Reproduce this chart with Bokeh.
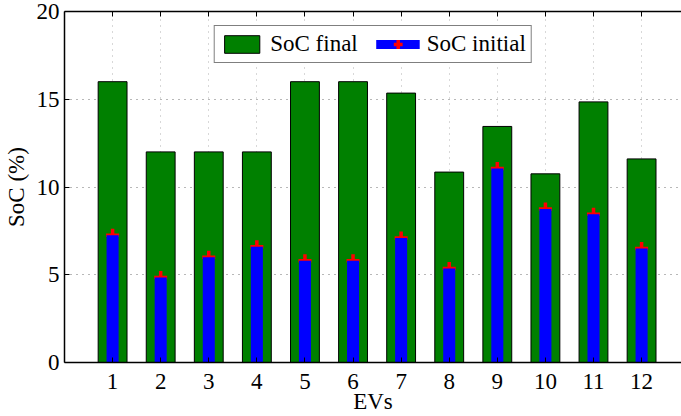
from bokeh.plotting import figure
from bokeh.models import (Range1d, LinearAxis, FixedTicker, Legend, LegendItem,
                          ColumnDataSource)
from bokeh.embed import file_html
from bokeh.resources import INLINE

evs = [1, 2, 3, 4, 5, 6, 7, 8, 9, 10, 11, 12]
soc_final = [16.0, 12.0, 12.0, 12.0, 16.0, 16.0, 15.35, 10.85, 13.45, 10.75, 14.85, 11.6]
soc_initial = [7.25, 4.85, 6.0, 6.6, 5.8, 5.8, 7.1, 5.35, 11.05, 8.75, 8.45, 6.5]
y_ticks = [0, 5, 10, 15, 20]

FONT = "Liberation Serif"
FS = "23px"

p = figure(width=681, height=416, output_backend="svg", toolbar_location=None,
           x_range=Range1d(0, 12.83), y_range=Range1d(0, 20),
           min_border_left=64, min_border_right=0, min_border_top=11, min_border_bottom=52)
p.outline_line_color = None
p.background_fill_color = "white"
p.border_fill_color = "white"

src = ColumnDataSource(dict(ev=evs, final=soc_final, initial=soc_initial))

g = p.vbar(x="ev", top="final", width=0.6, bottom=0, source=src, fill_color="#008000",
           line_color="black", line_width=1)
m = p.scatter(x="ev", y="initial", source=src, marker="cross", size=13,
              line_color="#ff0000", line_width=3.5)
b = p.vbar(x="ev", top="initial", width=0.25, bottom=0, source=src, fill_color="#0000ff",
           line_color=None)

# legend-only proxies: same data on an off-screen range, so only the legend shows them
p.extra_y_ranges = {"legend_only": Range1d(1000, 1001)}
lg_line = p.line(x="ev", y="initial", source=src, y_range_name="legend_only",
                 line_color="#0000ff", line_width=9)
lg_mark = p.scatter(x="ev", y="initial", source=src, y_range_name="legend_only",
                    marker="cross", size=12, line_color="#ff0000", line_width=3.5)

legend = Legend(items=[LegendItem(label="SoC final", renderers=[g]),
                       LegendItem(label="SoC initial", renderers=[lg_line, lg_mark])],
                location="top_center", orientation="horizontal", margin=14,
                padding=5, spacing=18, glyph_width=44, glyph_height=22,
                label_text_font=FONT, label_text_font_size=FS, label_standoff=7,
                label_text_color="black",
                border_line_color="black", border_line_width=1.5,
                background_fill_color="white", background_fill_alpha=1)
p.add_layout(legend, "center")

# axes
for ax in [p.xaxis[0], p.yaxis[0]]:
    ax.axis_line_width = 1.5
    ax.axis_line_color = "black"
    ax.major_tick_in = 5
    ax.major_tick_out = 0
    ax.major_tick_line_color = "black"
    ax.minor_tick_line_color = None
    ax.major_label_text_font = FONT
    ax.major_label_text_font_size = FS
    ax.major_label_text_color = "black"
    ax.axis_label_text_font = FONT
    ax.axis_label_text_font_size = FS
    ax.axis_label_text_font_style = "normal"
    ax.axis_label_text_color = "black"

p.xaxis[0].ticker = FixedTicker(ticks=evs)
p.yaxis[0].ticker = FixedTicker(ticks=y_ticks)
p.xaxis[0].axis_label = "EVs"
p.yaxis[0].axis_label = "SoC (%)"
p.xaxis[0].major_label_standoff = 11
p.xaxis[0].axis_label_standoff = -3
p.yaxis[0].major_label_standoff = 5
p.yaxis[0].axis_label_standoff = 5

top = LinearAxis(ticker=FixedTicker(ticks=evs), axis_line_width=1.5, axis_line_color="black",
                 major_tick_in=5, major_tick_out=0, minor_tick_line_color=None,
                 major_tick_line_color="black",
                 major_label_overrides={t: "" for t in evs},
                 major_label_text_font_size="1px", major_label_standoff=0)
p.add_layout(top, "above")

p.xgrid.ticker = FixedTicker(ticks=evs)
p.ygrid.ticker = FixedTicker(ticks=[5, 10, 15])
p.xgrid.grid_line_color = "#b0b0b0"
p.xgrid.grid_line_dash = "1 5"
p.ygrid.grid_line_color = "#707070"
p.ygrid.grid_line_dash = "1 5"

open("out.html", "w").write(file_html(p, INLINE))
